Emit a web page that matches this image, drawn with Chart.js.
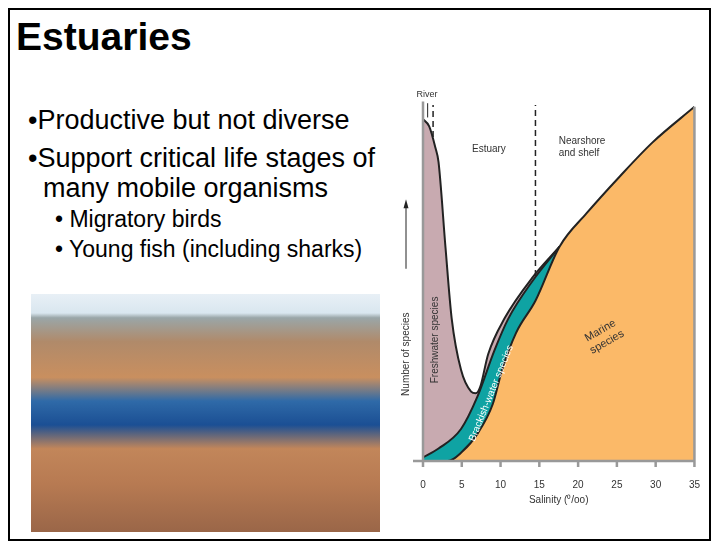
<!DOCTYPE html>
<html><head><meta charset="utf-8">
<script src="https://cdn.jsdelivr.net/npm/chart.js@4"></script>
<style>
body{margin:0;width:714px;height:555px;background:#fff;font-family:Arial,"Liberation Sans",sans-serif;position:relative;overflow:hidden}
#frame{position:absolute;left:8px;top:8px;width:703px;height:532px;border:2px solid #000;border-bottom:none;box-sizing:border-box}
#bot{position:absolute;left:8px;top:539px;width:703px;border-top:2px solid #000}
h1{position:absolute;left:16px;top:15px;margin:0;font-size:39px;font-weight:bold}
.b{position:absolute;font-size:27px;line-height:30px}
.s{position:absolute;font-size:23px}
#photo{position:absolute;left:31px;top:294px;width:349px;height:238px;
background:linear-gradient(180deg,#e8f0f6 0%,#d9e6ef 8%,#9aa6a8 10%,#b08a6a 20%,#c98f5f 35%,#2f6aa8 45%,#1b4f94 55%,#c2865a 65%,#b77a52 80%,#9a6648 100%)}
#wrap{position:absolute;left:395px;top:80px;width:315px;height:430px}
</style></head><body>
<div id="frame"></div><div id="bot"></div>
<h1>Estuaries</h1>
<div class="b" style="left:28px;top:105px">•Productive but not diverse</div>
<div class="b" style="left:28px;top:143px">•Support critical life stages of<br>&nbsp;&nbsp;many mobile organisms</div>
<div class="s" style="left:55px;top:206px">• Migratory birds</div>
<div class="s" style="left:55px;top:236px">• Young fish (including sharks)</div>
<div id="photo"></div>
<div id="wrap"><canvas id="c" width="315" height="430"></canvas></div>
<script>
const freshX=[0,0.8,1.6,2.0,2.9,3.7,4.9,6.2,6.8,7.4,8.4,10.5,14.1,17.6];
const freshY=[96,94,88,84,60,40,25.6,19.5,19,21,30,40,51.5,60.2];
const brackX=[0,2,4.9,7,9.2,11,14.1,17.6];
const brackY=[1,3.5,9,18,31,40,50.5,60.2];
const marineX=[0,3.2,5,7.1,9,10.2,12,14.5,17.6,21.1,25.4,29.6,35];
const marineY=[0,0,2.5,7.9,16,25.6,36,45,60.2,69.6,80,89.5,99.5];
const xTicks=[0,5,10,15,20,25,30,35];
const pts=(xs,ys)=>xs.map((x,i)=>({x,y:ys[i]}));
const ds=(xs,ys,col)=>({data:pts(xs,ys),borderColor:'#222',borderWidth:2,backgroundColor:col,fill:'origin',pointRadius:0,cubicInterpolationMode:'monotone'});
const labels={id:'lab',afterDatasetsDraw(c){
 const g=c.ctx,x=c.scales.x,y=c.scales.y;
 const T=(t,px,py,rot,col,size,align)=>{g.save();g.translate(px,py);g.rotate(rot*Math.PI/180);g.fillStyle=col;g.font=size+'px Arial';g.textAlign=align||'center';g.textBaseline='middle';
  t.split('\n').forEach((l,i,a)=>g.fillText(l,0,(i-(a.length-1)/2)*size*1.2));g.restore();};
 g.save();g.strokeStyle='#222';g.lineWidth=1.5;g.setLineDash([6,4]);
 g.beginPath();g.moveTo(x.getPixelForValue(14.5),y.getPixelForValue(52));g.lineTo(x.getPixelForValue(14.5),y.getPixelForValue(100));
 g.moveTo(x.getPixelForValue(1.3),y.getPixelForValue(91));g.lineTo(x.getPixelForValue(1.3),y.getPixelForValue(100));g.stroke();
 g.setLineDash([]);g.lineWidth=1;g.beginPath();g.moveTo(x.getPixelForValue(0.6),y.getPixelForValue(96.5));g.lineTo(x.getPixelForValue(0.6),y.getPixelForValue(100.5));g.stroke();
 g.strokeStyle='#999';g.lineWidth=2.5;g.beginPath();
 g.moveTo(x.getPixelForValue(0),y.getPixelForValue(0)+6);g.lineTo(x.getPixelForValue(0),y.getPixelForValue(101));
 g.moveTo(x.getPixelForValue(35),y.getPixelForValue(0)+6);g.lineTo(x.getPixelForValue(35),y.getPixelForValue(99.5));
 g.moveTo(x.left-10,y.getPixelForValue(0));g.lineTo(x.right,y.getPixelForValue(0));
 xTicks.forEach(v=>{g.moveTo(x.getPixelForValue(v),y.getPixelForValue(0));g.lineTo(x.getPixelForValue(v),y.getPixelForValue(0)+6);});
 g.stroke();
 g.strokeStyle='#222';g.lineWidth=1;g.beginPath();g.moveTo(x.left-17,y.getPixelForValue(54));g.lineTo(x.left-17,y.getPixelForValue(72));g.stroke();
 g.fillStyle='#222';g.beginPath();g.moveTo(x.left-17,y.getPixelForValue(73.5));g.lineTo(x.left-19.5,y.getPixelForValue(71));g.lineTo(x.left-14.5,y.getPixelForValue(71));g.fill();
 g.restore();
 T('River',x.getPixelForValue(0.5),y.getPixelForValue(103),0,'#333',9);
 T('Estuary',x.getPixelForValue(8.5),y.getPixelForValue(87.5),0,'#333',10);
 T('Nearshore\nand shelf',x.getPixelForValue(17.5),y.getPixelForValue(88),0,'#333',10,'left');
 T('Freshwater species',x.getPixelForValue(1.6),y.getPixelForValue(34),-90,'#333',10);
 T('Brackish-water species',x.getPixelForValue(8.8),y.getPixelForValue(19),-68,'#fff',10);
 T('Marine\nspecies',x.getPixelForValue(23.3),y.getPixelForValue(35),-30,'#333',11);
 T('Number of species',x.left-17,y.getPixelForValue(30),-90,'#333',10);
}};
new Chart(document.getElementById('c'),{type:'line',
 data:{datasets:[ds(marineX,marineY,'#fbb968'),ds(brackX,brackY,'#0fa3a3'),ds(freshX,freshY,'#c8aab0')]},
 options:{responsive:false,animation:false,layout:{padding:{top:25,right:15}},
  plugins:{legend:{display:false},tooltip:{enabled:false}},
  scales:{
   x:{type:'linear',min:0,max:35,afterFit:s=>{s.height=49},grid:{display:false},border:{display:false},
    afterBuildTicks:s=>{s.ticks=xTicks.map(v=>({value:v}))},
    ticks:{color:'#333',font:{size:10},padding:10,maxRotation:0},
    title:{display:true,text:'Salinity (⁰/oo)',color:'#333',font:{size:10},padding:{top:0}}},
   y:{min:0,max:100,afterFit:s=>{s.width=28},ticks:{display:false},grid:{display:false},border:{display:false}}}},
 plugins:[labels]});
</script></body></html>
